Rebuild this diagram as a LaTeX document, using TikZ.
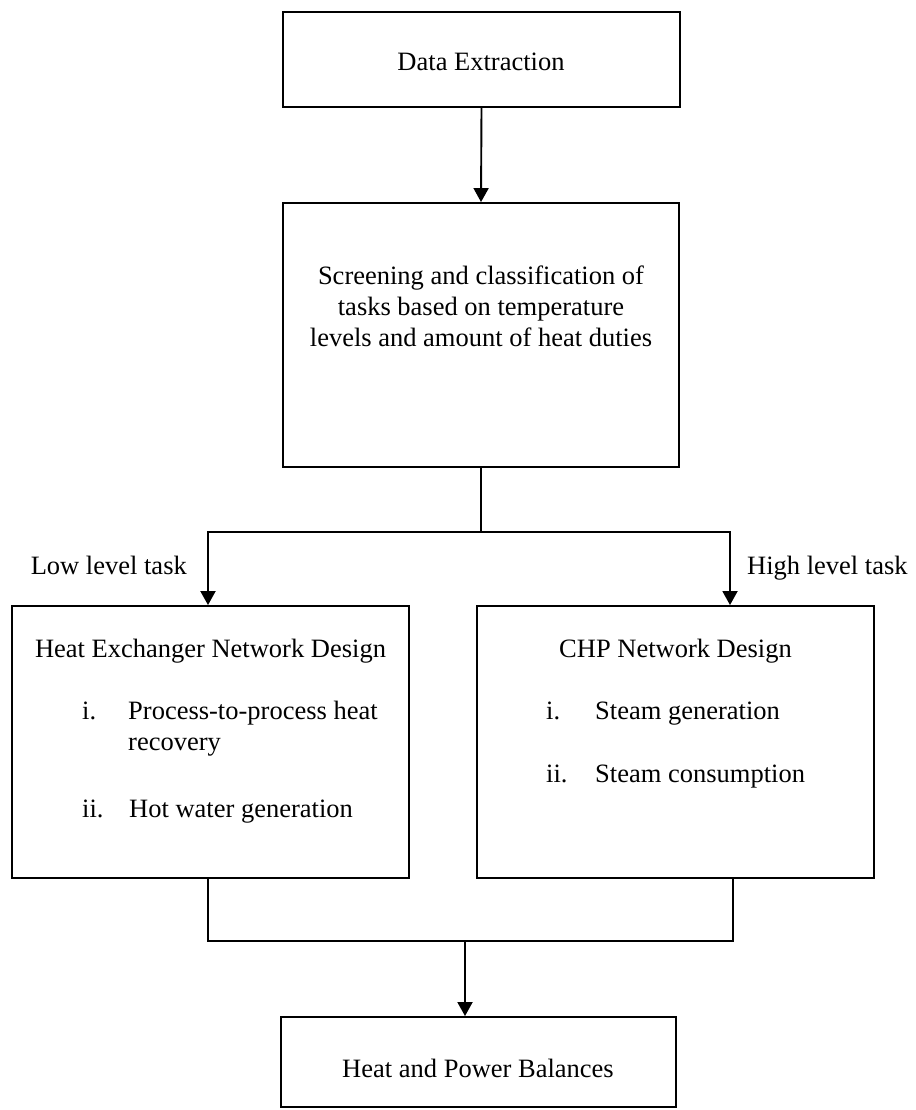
\documentclass[tikz,border=0pt]{standalone}
\usepackage{fontspec}
\setmainfont{Liberation Serif}
\usetikzlibrary{arrows.meta}
\begin{document}
\begin{tikzpicture}[x=1pt,y=-1pt,
  box/.style={draw,line width=1.9pt,inner sep=0pt,rectangle},
  txt/.style={inner sep=0pt,font=\fontsize{26.5}{31}\selectfont},
  link/.style={line width=1.9pt},
  arr/.style={line width=1.9pt,-{Triangle[length=14pt,width=15pt]}}]
\useasboundingbox (0,0) rectangle (915,1110);
% boxes
\node[box,minimum width=397pt,minimum height=95pt] (b1) at (481.5,59.5) {};
\node[box,minimum width=396pt,minimum height=264pt] (b2) at (481,335) {};
\node[box,minimum width=397pt,minimum height=272pt] (hen) at (210.5,742) {};
\node[box,minimum width=397pt,minimum height=272pt] (chp) at (675.5,742) {};
\node[box,minimum width=395pt,minimum height=90pt] (hpb) at (478.5,1062) {};
% texts
\node[txt] (t1) at (481,62) {Data Extraction};
\node[txt,align=center] (t2) at (481,306) {Screening and classification of\\tasks based on temperature\\levels and amount of heat duties};
\node[txt,anchor=base] (t3) at (210.5,657) {Heat Exchanger Network Design};
\node[txt,anchor=base west] (t3a) at (82,719) {i.};
\node[txt,anchor=base west] (t3b) at (128,719) {Process-to-process heat};
\node[txt,anchor=base west] (t3c) at (128,750) {recovery};
\node[txt,anchor=base west] (t3d) at (82,817) {ii.};
\node[txt,anchor=base west] (t3e) at (129,817) {Hot water generation};
\node[txt,anchor=base] (t4) at (675.5,657) {CHP Network Design};
\node[txt,anchor=base west] (t4a) at (546,719) {i.};
\node[txt,anchor=base west] (t4b) at (595,719) {Steam generation};
\node[txt,anchor=base west] (t4c) at (546,782) {ii.};
\node[txt,anchor=base west] (t4d) at (595,782) {Steam consumption};
\node[txt,anchor=base] (t5) at (478,1077) {Heat and Power Balances};
\node[txt,anchor=base east] (low) at (187,574) {Low level task};
\node[txt,anchor=base west] (high) at (747,574) {High level task};
% connectors
\coordinate (sl) at (208,532);
\coordinate (sm) at (481,532);
\coordinate (sr) at (730,532);
\coordinate (jl) at (208,941);
\coordinate (jm) at (465,941);
\coordinate (jr) at (733,941);
\draw[arr] (b1.south) -- (b2.north);
\draw[link] (b2.south) -- (sm);
\draw[link,line cap=rect] (sl) -- (sr);
\draw[arr] (sl) -- (sl |- hen.north);
\draw[arr] (sr) -- (sr |- chp.north);
\draw[link] (jl |- hen.south) -- (jl) -- (jr) -- (jr |- chp.south);
\draw[arr] (jm) -- (jm |- hpb.north);
\end{tikzpicture}
\end{document}
